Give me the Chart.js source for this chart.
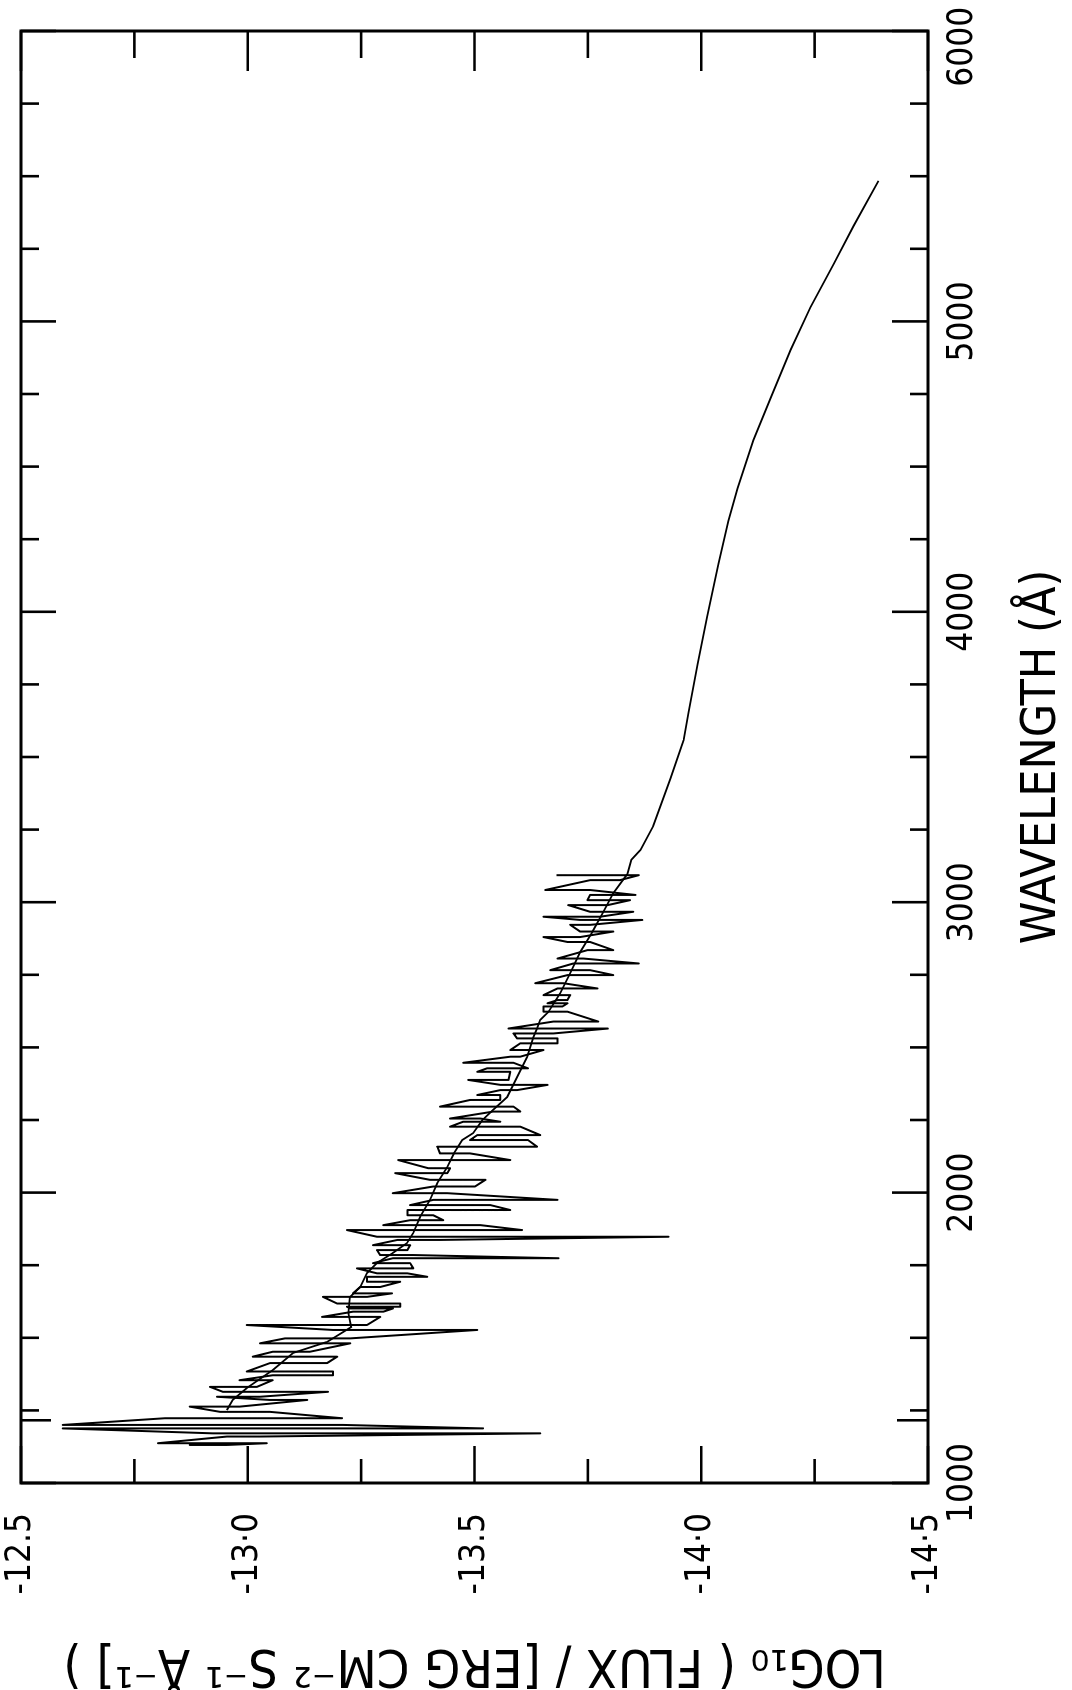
<!DOCTYPE html>
<html>
<head>
<meta charset="utf-8">
<title>UV-optical spectrum</title>
<script src="https://cdn.jsdelivr.net/npm/chart.js@4.4.1/dist/chart.umd.min.js"></script>
<style>
  html, body { margin: 0; padding: 0; background: #fff; overflow: hidden; }
  /* the figure is printed turned on its side: draw it upright, then rotate */
  #wrap {
    position: absolute; left: 0; top: 0;
    width: 1690px; height: 1072px;
    transform-origin: 0 0;
    transform: translate(0, 1690px) rotate(-90deg);
  }
</style>
</head>
<body>
<div id="wrap"><canvas id="spectrumChart" width="1690" height="1072"></canvas></div>
<script>
// IUE spectrum: at each wavelength the trace swings between these two levels
const specWave = [1131, 1137, 1160, 1171, 1188, 1200, 1223, 1245, 1263, 1286,
  1297, 1314, 1331, 1354, 1371, 1384, 1413, 1435, 1452, 1481,
  1498, 1527, 1544, 1572, 1590, 1601, 1607, 1618, 1641, 1653,
  1675, 1693, 1710, 1722, 1739, 1757, 1774, 1785, 1802, 1819,
  1837, 1848, 1871, 1888, 1905, 1922, 1940, 1957, 1975, 1998,
  2021, 2044, 2067, 2084, 2112, 2135, 2158, 2181, 2198, 2227,
  2244, 2255, 2279, 2296, 2319, 2336, 2353, 2371, 2388, 2416,
  2428, 2447, 2468, 2491, 2514, 2531, 2548, 2565, 2589, 2623,
  2641, 2652, 2663, 2680, 2703, 2721, 2749, 2766, 2789, 2806,
  2835, 2863, 2880, 2899, 2922, 2939, 2950, 2967, 2990, 3007,
  3025, 3042, 3076, 3093];
const specHigh = [-12.872, -12.802, -12.954, -12.923, -12.592, -12.592, -12.817, -12.939, -12.872, -13.049,
  -12.932, -12.945, -12.917, -12.982, -13.055, -12.998, -13.049, -13.011, -13.055, -13.027,
  -13.082, -13.188, -12.998, -13.164, -13.232, -13.226, -13.219, -13.197, -13.166, -13.232,
  -13.248, -13.263, -13.263, -13.285, -13.241, -13.276, -13.320, -13.292, -13.285, -13.276,
  -13.330, -13.285, -13.219, -13.299, -13.358, -13.352, -13.352, -13.358, -13.409, -13.320,
  -13.409, -13.402, -13.325, -13.398, -13.332, -13.424, -13.418, -13.490, -13.506, -13.446,
  -13.475, -13.446, -13.541, -13.424, -13.490, -13.506, -13.557, -13.557, -13.486, -13.506,
  -13.528, -13.475, -13.579, -13.579, -13.601, -13.594, -13.586, -13.575, -13.674, -13.652,
  -13.652, -13.661, -13.683, -13.652, -13.683, -13.634, -13.705, -13.667, -13.718, -13.683,
  -13.749, -13.705, -13.652, -13.733, -13.711, -13.733, -13.652, -13.755, -13.707, -13.749,
  -13.755, -13.656, -13.755, -13.681];
const specLow = [-12.954, -13.042, -13.027, -13.645, -13.519, -13.210, -13.208, -13.049, -12.982, -13.131,
  -13.027, -13.177, -13.020, -13.055, -13.188, -13.188, -13.175, -13.197, -13.137, -13.226,
  -13.226, -13.506, -13.263, -13.292, -13.299, -13.320, -13.336, -13.336, -13.263, -13.318,
  -13.292, -13.336, -13.396, -13.352, -13.365, -13.358, -13.685, -13.365, -13.352, -13.358,
  -13.424, -13.928, -13.605, -13.513, -13.431, -13.409, -13.579, -13.535, -13.683, -13.440,
  -13.501, -13.524, -13.440, -13.446, -13.579, -13.490, -13.638, -13.618, -13.645, -13.601,
  -13.557, -13.513, -13.601, -13.586, -13.557, -13.557, -13.594, -13.661, -13.575, -13.579,
  -13.618, -13.586, -13.601, -13.652, -13.683, -13.683, -13.674, -13.794, -13.773, -13.705,
  -13.694, -13.705, -13.705, -13.711, -13.771, -13.696, -13.806, -13.755, -13.862, -13.740,
  -13.806, -13.755, -13.733, -13.806, -13.755, -13.870, -13.777, -13.850, -13.794, -13.843,
  -13.855, -13.755, -13.821, -13.862];

// smooth continuum curve
const fitWave = [1251, 1286, 1327, 1390, 1448, 1486, 1537, 1585, 1640, 1675,
  1723, 1758, 1792, 1826, 1861, 1916, 1975, 2033, 2088, 2136,
  2181, 2205, 2249, 2285, 2329, 2398, 2467, 2535, 2566, 2595,
  2622, 2687, 2756, 2828, 2898, 2966, 3031, 3097, 3146, 3180,
  3262, 3425, 3558, 3655, 3820, 3983, 4164, 4313, 4426, 4591,
  4736, 4902, 5049, 5198, 5329, 5484];
const fitFlux = [-12.954, -12.967, -12.998, -13.056, -13.100, -13.175, -13.228, -13.222, -13.225, -13.248,
  -13.263, -13.285, -13.320, -13.351, -13.365, -13.380, -13.402, -13.418, -13.440, -13.455,
  -13.473, -13.497, -13.517, -13.541, -13.572, -13.594, -13.616, -13.630, -13.638, -13.645,
  -13.663, -13.689, -13.711, -13.733, -13.760, -13.784, -13.806, -13.837, -13.846, -13.866,
  -13.894, -13.932, -13.961, -13.972, -13.992, -14.013, -14.038, -14.060, -14.080, -14.115,
  -14.153, -14.197, -14.241, -14.292, -14.336, -14.391];

// axes
const waveTicks = [1000, 2000, 3000, 4000, 5000, 6000];
const waveTickLabels = ['1000', '2000', '3000', '4000', '5000', '6000\u2003'];
const waveMinor = [1250, 1500, 1750, 2250, 2500, 2750, 3250, 3500, 3750,
  4250, 4500, 4750, 5250, 5500, 5750];
const lyAlphaTick = 1216;
const fluxTicks = [-14.5, -14.0, -13.5, -13.0, -12.5];
const fluxTickLabels = ['-14·5', '-14·0', '-13.5', '-13·0', '-12.5'];
const fluxMinor = [-14.25, -13.75, -13.25, -12.75];

const FONT = "'Liberation Sans Narrow', 'DejaVu Sans Condensed', 'Liberation Sans', sans-serif";

// zig-zag through the high/low levels
const specPoints = [];
specWave.forEach((w, i) => {
    if (i % 2 === 0) {
        specPoints.push({ x: w, y: specHigh[i] }, { x: w, y: specLow[i] });
    } else {
        specPoints.push({ x: w, y: specLow[i] }, { x: w, y: specHigh[i] });
    }
});
const fitPoints = fitWave.map((w, i) => ({ x: w, y: fitFlux[i] }));

// frame with inward ticks on all four sides
const frameTicks = {
    id: 'frameTicks',
    afterDatasetsDraw(chart) {
        const { ctx, chartArea: a, scales: { x, y } } = chart;
        const seg = (x0, y0, x1, y1) => {
            ctx.beginPath(); ctx.moveTo(x0, y0); ctx.lineTo(x1, y1); ctx.stroke();
        };
        ctx.save();
        ctx.strokeStyle = '#000';
        ctx.lineWidth = 2.6;
        // wavelength ticks (bottom and top edges)
        const waveTick = (v, lenBottom, lenTop) => {
            const px = x.getPixelForValue(v);
            seg(px, a.bottom, px, a.bottom - lenBottom);
            seg(px, a.top, px, a.top + lenTop);
        };
        waveTicks.forEach(v => waveTick(v, 36, 35));
        waveMinor.forEach(v => waveTick(v, 18, 18));
        waveTick(lyAlphaTick, 31, 30);
        // flux ticks (left and right edges)
        const fluxTick = (v, lenLeft, lenRight) => {
            const py = y.getPixelForValue(v);
            seg(a.left, py, a.left + lenLeft, py);
            seg(a.right, py, a.right - lenRight, py);
        };
        fluxTicks.forEach(v => fluxTick(v, 37, 40));
        fluxMinor.forEach(v => fluxTick(v, 24, 27));
        ctx.lineWidth = 3;
        ctx.strokeRect(a.left, a.top, a.right - a.left, a.bottom - a.top);
        ctx.restore();
    }
};

const ctx = document.getElementById('spectrumChart').getContext('2d');
new Chart(ctx, {
    type: 'line',
    data: {
        datasets: [{
            label: 'IUE',
            data: specPoints,
            borderColor: '#000',
            borderWidth: 2,
            borderJoinStyle: 'round',
            pointRadius: 0,
            tension: 0
        }, {
            label: 'continuum',
            data: fitPoints,
            borderColor: '#000',
            borderWidth: 1.8,
            pointRadius: 0,
            tension: 0
        }]
    },
    options: {
        responsive: false,
        animation: false,
        devicePixelRatio: 1,
        layout: { padding: { top: 21, right: 31, left: 0, bottom: 0 } },
        plugins: {
            legend: { display: false },
            tooltip: { enabled: false }
        },
        scales: {
            x: {
                type: 'linear',
                min: 1000,
                max: 6000,
                grid: { display: false, drawTicks: false },
                border: { display: false },
                afterBuildTicks: s => { s.ticks = waveTicks.map(v => ({ value: v })); },
                afterFit: s => { s.height = 144; s.paddingLeft = 0; s.paddingRight = 0; },
                ticks: {
                    autoSkip: false,
                    maxRotation: 0,
                    padding: 14,
                    color: '#000',
                    font: { family: FONT, size: 35 },
                    callback: v => waveTickLabels[waveTicks.indexOf(v)]
                },
                title: {
                    display: true,
                    text: 'WAVELENGTH (Å)',
                    color: '#000',
                    font: { family: FONT, size: 48, lineHeight: 1 },
                    padding: { top: 0, bottom: 5 }
                }
            },
            y: {
                type: 'linear',
                min: -14.5,
                max: -12.5,
                grid: { display: false, drawTicks: false },
                border: { display: false },
                afterBuildTicks: s => { s.ticks = fluxTicks.map(v => ({ value: v })); },
                afterFit: s => { s.width = 207; s.paddingTop = 0; s.paddingBottom = 0; },
                ticks: {
                    autoSkip: false,
                    padding: 30,
                    color: '#000',
                    font: { family: FONT, size: 35 },
                    callback: v => fluxTickLabels[fluxTicks.indexOf(v)]
                },
                title: {
                    display: true,
                    text: 'LOG₁₀ ( FLUX / [ERG CM⁻² S⁻¹ Å⁻¹] )',
                    color: '#000',
                    font: { family: FONT, size: 52, lineHeight: 1 },
                    padding: { top: 0, bottom: 0 }
                }
            }
        }
    },
    plugins: [frameTicks]
});
</script>
</body>
</html>
